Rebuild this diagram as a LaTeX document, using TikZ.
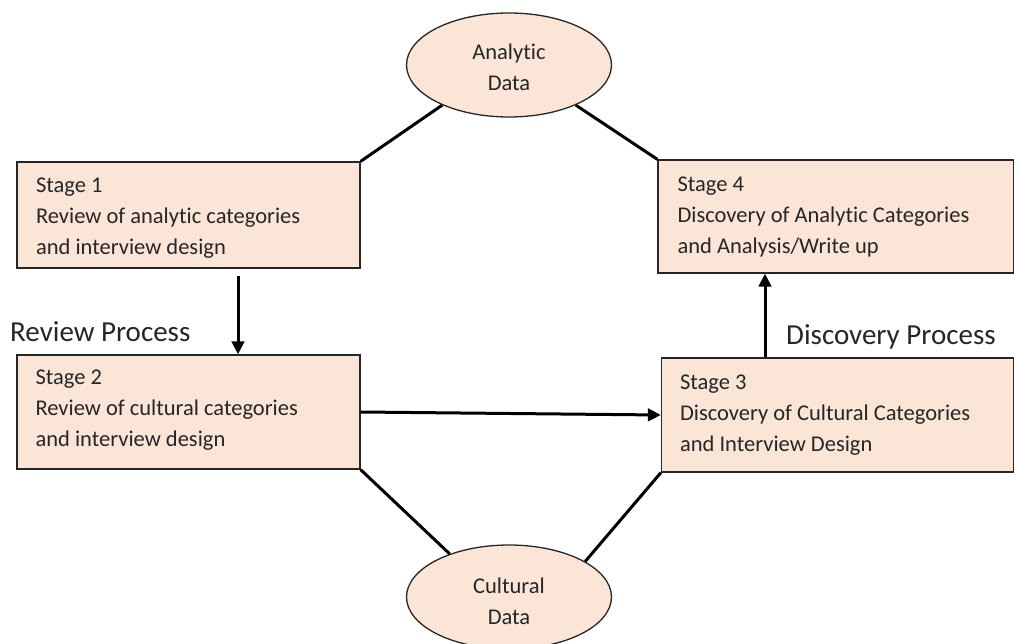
\documentclass[tikz,border=0pt]{standalone}
\usepackage{fontspec}
\setmainfont{Carlito}[Ligatures=NoCommon]
\usetikzlibrary{shapes.geometric,arrows.meta}
\definecolor{peach}{HTML}{FBE5D6}
\definecolor{ink}{HTML}{262626}
\tikzset{
  stagebox/.style={draw=black!85, line width=1.3pt, fill=peach, rectangle,
    inner sep=0pt},
  stagetext/.style={anchor=north west, inner sep=0pt, align=left, text=ink,
    font=\fontsize{22.5pt}{31pt}\selectfont},
  databubble/.style={draw=black!85, line width=1.3pt, fill=peach, ellipse,
    inner sep=0pt, minimum width=205pt, minimum height=104pt},
  bubbletext/.style={anchor=north, inner sep=0pt, align=center, text=ink,
    font=\fontsize{22.5pt}{31.4pt}\selectfont},
  link/.style={line width=3pt, black},
  flow/.style={line width=3pt, black, -{Triangle[length=13pt,width=12.5pt]}},
  proc/.style={text=ink, font=\fontsize{29pt}{34pt}\selectfont, inner sep=0pt}
}
\begin{document}
\begin{tikzpicture}[x=1pt,y=-1pt]
  \clip (0,0) rectangle (1014,644);
  \fill[white] (0,0) rectangle (1014,644);

  % data sources
  \node[databubble] (ana) at (509,65) {};
  \node[databubble] (cul) at (509,597) {};
  \node[bubbletext] (anat) at ([yshift=27.75pt]ana.center) {\strut Analytic\\Data};
  \node[bubbletext] (cult) at ([yshift=25.75pt]cul.center) {\strut Cultural\\Data};

  % the four stages
  \node[stagebox, minimum width=343pt, minimum height=106pt] (s1) at (188.5,215) {};
  \node[stagebox, minimum width=343pt, minimum height=114pt] (s2) at (188.5,412) {};
  \node[stagebox, minimum width=352pt, minimum height=114pt] (s3) at (837.5,415) {};
  \node[stagebox, minimum width=356pt, minimum height=113pt] (s4) at (836,216.5) {};

  \node[stagetext] (s1t) at ([shift={(19.5,9)}]s1.north west)
    {\strut Stage 1\\Review of analytic categories\\and interview design};
  \node[stagetext] (s2t) at ([shift={(19,8.3)}]s2.north west)
    {\strut Stage 2\\Review of cultural categories\\and interview design};
  \node[stagetext] (s3t) at ([shift={(19,10.5)}]s3.north west)
    {\strut Stage 3\\Discovery of Cultural Categories\\and Interview Design};
  \node[stagetext] (s4t) at ([shift={(20,10)}]s4.north west)
    {\strut Stage 4\\Discovery of Analytic Categories\\and Analysis/Write up};

  % process labels
  \node[proc, anchor=base west] (rev) at (10,341.7) {Review Process};
  \node[proc, anchor=base west] (dis) at (786,344) {Discovery Process};

  % links to the data sources
  \draw[link] (ana.211) -- (s1.north east);
  \draw[link] (ana.329.5) -- (s4.north west);
  \draw[link] (cul.144) -- (s2.south east);
  \draw[link] (cul.25) -- (s3.south west);

  % process flow
  \draw[flow] ([xshift=49.5pt,yshift=-7pt]s1.south) -- ([xshift=49.5pt]s2.north);
  \draw[flow] (s2.east) -- (s3.west);
  \draw[flow] ([xshift=-72.5pt]s3.north) -- ([xshift=-71pt]s4.south);
\end{tikzpicture}
\end{document}
